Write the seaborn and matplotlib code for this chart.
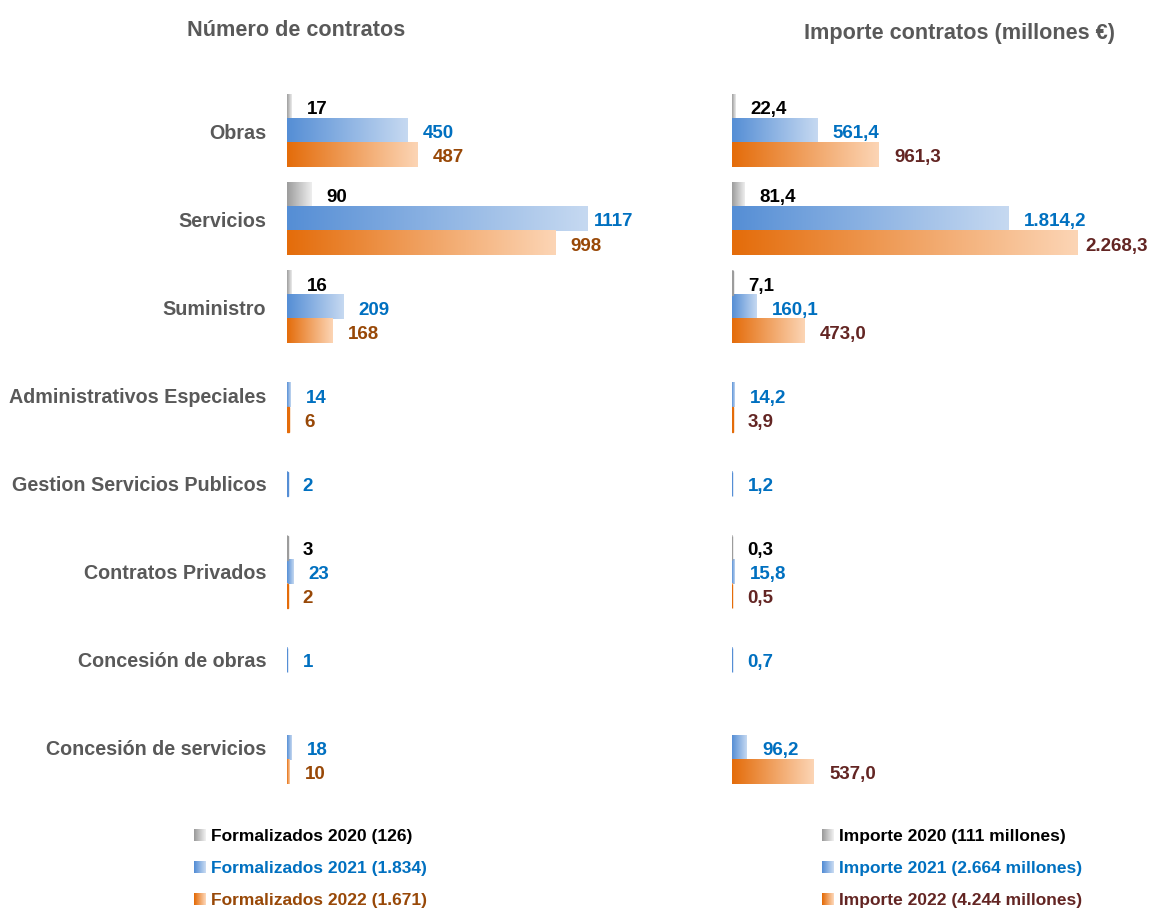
import numpy as np
import pandas as pd
import matplotlib
matplotlib.use("Agg")
import matplotlib.pyplot as plt
from matplotlib.colors import LinearSegmentedColormap, to_rgb
from matplotlib.legend_handler import HandlerBase
from matplotlib.patches import Rectangle
import seaborn as sns

# Datos
categories = ["Obras", "Servicios", "Suministro", "Administrativos Especiales",
              "Gestion Servicios Publicos", "Contratos Privados",
              "Concesión de obras", "Concesión de servicios"]
years = ["2020", "2021", "2022"]

# numero de contratos
n2020 = [17, 90, 16, None, None, 3, None, None]
n2021 = [450, 1117, 209, 14, 2, 23, 1, 18]
n2022 = [487, 998, 168, 6, None, 2, None, 10]

# importe (millones de euros)
i2020 = [22.4, 81.4, 7.1, None, None, 0.3, None, None]
i2021 = [561.4, 1814.2, 160.1, 14.2, 1.2, 15.8, 0.7, 96.2]
i2022 = [961.3, 2268.3, 473.0, 3.9, None, 0.5, None, 537.0]

sns.set_style("white")
plt.rcParams["font.family"] = ["Liberation Sans Narrow", "Liberation Sans", "DejaVu Sans"]
plt.rcParams["font.weight"] = "bold"

grad = {"2020": ("#9c9c9c", "#eeeeee"),
        "2021": ("#558ed5", "#c6d9f1"),
        "2022": ("#e46c0a", "#fcd5b5")}
palette = {y: grad[y][0] for y in years}
cmaps = {y: LinearSegmentedColormap.from_list(y, grad[y]) for y in years}
gray = "#595959"


def long_df(v20, v21, v22):
    rows = []
    for yr, vals in zip(years, [v20, v21, v22]):
        for c, v in zip(categories, vals):
            if v is not None:
                rows.append((c, yr, v))
    return pd.DataFrame(rows, columns=["cat", "year", "value"])


def fmt_int(v):
    return f"{v:.0f}"


def fmt_es(v):
    return f"{v:,.1f}".replace(",", "X").replace(".", ",").replace("X", ".")


def draw_panel(ax, df, xmax, txt_colors, fmt):
    sns.barplot(data=df, y="cat", x="value", hue="year", order=categories,
                hue_order=years, palette=palette, orient="h", width=0.82,
                errorbar=None, legend=False, saturation=1, ax=ax)
    ax.set_xlim(0, xmax)
    ax.set_ylim(len(categories) - 0.5, -0.5)
    g = np.linspace(0, 1, 256).reshape(1, -1)
    x0px = ax.transData.transform((0, 0))[0]
    for p in list(ax.patches):
        w = p.get_width()
        if not np.isfinite(w) or w <= 0:
            continue
        fc = to_rgb(p.get_facecolor())
        yr = [y for y in years if np.allclose(fc, to_rgb(palette[y]), atol=0.02)][0]
        x, y, h = p.get_x(), p.get_y(), p.get_height()
        ax.imshow(g, extent=(x, x + w, y, y + h), cmap=cmaps[yr],
                  aspect="auto", zorder=2, interpolation="bicubic")
        px = ax.transData.transform((w, 0))[0] - x0px
        p.set_linewidth(0)
        if px < 2:
            p.set_edgecolor(grad[yr][0])
            p.set_linewidth(1.0)
            p.set_zorder(3)
        off = 11 if w < 0.8 * xmax else 5
        ax.annotate(fmt(w), xy=(x + w, y + h / 2), xytext=(off, -2),
                    textcoords="offset points", va="center", ha="left",
                    color=txt_colors[yr], fontsize=13.5, fontweight="bold")
    ax.set_xlim(0, xmax)
    ax.set_ylim(len(categories) - 0.5, -0.5)
    ax.set_xticks([])
    ax.set_xlabel("")
    ax.set_ylabel("")
    ax.tick_params(axis="y", length=0, pad=15)
    sns.despine(ax=ax, left=True, bottom=True)


class GradHandler(HandlerBase):
    def create_artists(self, legend, orig_handle, xdescent, ydescent,
                       width, height, fontsize, trans):
        c0, c1 = orig_handle
        n = 12
        arts = []
        side = height * 1.0
        for k in range(n):
            t = k / (n - 1)
            col = tuple(np.array(to_rgb(c0)) * (1 - t) + np.array(to_rgb(c1)) * t)
            r = Rectangle((-xdescent + side * k / n, -ydescent + (height - side) / 2),
                          side / n + 0.05, side, facecolor=col, edgecolor="none",
                          transform=trans)
            arts.append(r)
        return arts


fig = plt.figure(figsize=(11.53, 9.11), dpi=100)
bottom = 1 - 792 / 911
height = 705 / 911
ax1 = fig.add_axes([287 / 1153, bottom, 353 / 1153, height])
ax2 = fig.add_axes([732 / 1153, bottom, 408 / 1153, height])

left_colors = {"2020": "#000000", "2021": "#0070c0", "2022": "#984807"}
right_colors = {"2020": "#000000", "2021": "#0070c0", "2022": "#632523"}

draw_panel(ax1, long_df(n2020, n2021, n2022), 1314, left_colors, fmt_int)
draw_panel(ax2, long_df(i2020, i2021, i2022), 2675, right_colors, fmt_es)

for lab in ax1.get_yticklabels():
    lab.set_color(gray)
    lab.set_fontsize(14.2)
    lab.set_fontweight("bold")
ax2.tick_params(axis="y", labelleft=False)

fig.text(296 / 1153, 1 - 30 / 911, "Número de contratos", ha="center", va="center",
         fontsize=15.6, fontweight="bold", color=gray)
fig.text(960 / 1153, 1 - 33 / 911, "Importe contratos (millones €)", ha="center",
         va="center", fontsize=15.6, fontweight="bold", color=gray)

# leyendas
def tot(vals):
    return sum(v for v in vals if v is not None)


def miles(v):
    return f"{v:,.0f}".replace(",", ".")


left_labels = [f"Formalizados {y} ({miles(tot(v))})" for y, v in zip(years, [n2020, n2021, n2022])]
right_labels = [f"Importe {y} ({miles(tot(v))} millones)" for y, v in zip(years, [i2020, i2021, i2022])]
handles = [grad[y] for y in years]

for labels, xa, cols in [(left_labels, 194 / 1153, left_colors),
                         (right_labels, 822 / 1153, right_colors)]:
    leg = fig.legend(handles, labels, loc="upper left", bbox_to_anchor=(xa, 1 - 829 / 911),
                     frameon=False, fontsize=12.5, handlelength=0.7, handleheight=0.7,
                     handletextpad=0.3, labelspacing=0.98, borderpad=0, borderaxespad=0,
                     handler_map={tuple: GradHandler()})
    for t, y in zip(leg.get_texts(), years):
        t.set_color(cols[y])
        t.set_fontweight("bold")

fig.savefig("out.png", dpi=100)
